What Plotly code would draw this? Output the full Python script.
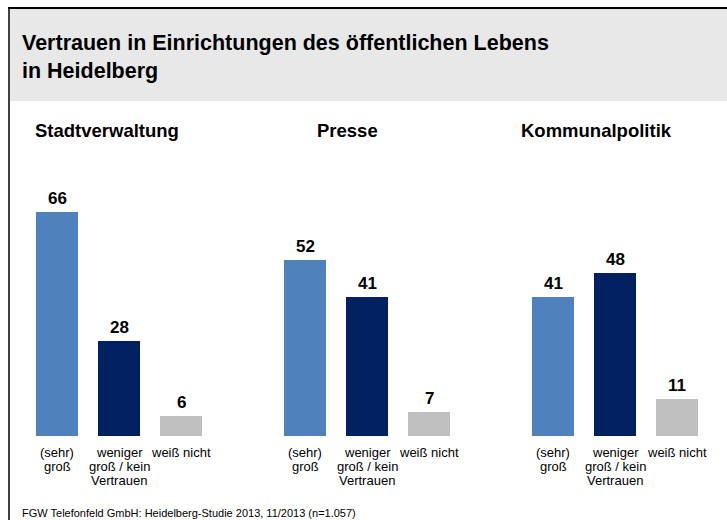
import plotly.graph_objects as go

# Canvas size in pixels
W, H = 727, 520

# ---- data -------------------------------------------------------------
institutions = ["Stadtverwaltung", "Presse", "Kommunalpolitik"]
answer_lines = [
    ["(sehr)", "groß"],
    ["weniger", "groß / kein", "Vertrauen"],
    ["weiß nicht"],
]
stadtverwaltung = [66, 28, 6]
presse = [52, 41, 7]
kommunalpolitik = [41, 48, 11]
series = [stadtverwaltung, presse, kommunalpolitik]

title_text = "Vertrauen in Einrichtungen des öffentlichen Lebens<br>in Heidelberg"
source_text = "FGW Telefonfeld GmbH: Heidelberg-Studie 2013, 11/2013 (n=1.057)"

# ---- style --------------------------------------------------------------
bar_colors = ["#4F81BD", "#002060", "#C0C0C0"]
FONT = "Liberation Sans, Arial, sans-serif"


def px_x(x):
    return x / W


def px_y(y):
    return 1 - y / H


# horizontal pixel extent of each panel, and the vertical plot area
panel_px = [(26, 212), (274, 460), (522, 708)]
plot_top, plot_bottom = 182, 436
y_max = 75
heading_left = [33, 315, 519]

fig = go.Figure()
axis_ids = ["x", "x2", "x3"]
annotations = []

for k, (name, vals) in enumerate(zip(institutions, series)):
    ax = axis_ids[k]
    fig.add_trace(go.Bar(
        x=list(range(len(vals))),
        y=vals,
        width=42 / 62,
        marker=dict(color=bar_colors, line=dict(width=0)),
        xaxis=ax,
        yaxis="y",
        hoverinfo="skip",
        showlegend=False,
    ))
    # value labels above the bars
    for i, v in enumerate(vals):
        annotations.append(dict(
            x=i, y=v, xref=ax, yref="y",
            text=f"<b>{v}</b>", showarrow=False,
            xanchor="center", yanchor="bottom", yshift=2,
            font=dict(family=FONT, size=17, color="#000000"),
        ))
    # category labels under the bars
    for i, lines in enumerate(answer_lines):
        for j, line in enumerate(lines):
            annotations.append(dict(
                x=i, y=px_y(452 + 14 * j), xref=ax, yref="paper",
                text=line, showarrow=False,
                xanchor="center", yanchor="middle",
                font=dict(family=FONT, size=13, color="#000000"),
            ))
    # panel heading
    annotations.append(dict(
        x=px_x(heading_left[k]), y=px_y(130), xref="paper", yref="paper",
        text=f"<b>{name}</b>", showarrow=False,
        xanchor="left", yanchor="middle",
        font=dict(family=FONT, size=18.5, color="#000000"),
    ))

# main title in the grey header band
annotations.append(dict(
    x=px_x(20), y=px_y(29), xref="paper", yref="paper",
    text=f"<b>{title_text}</b>", showarrow=False, align="left",
    xanchor="left", yanchor="top",
    font=dict(family=FONT, size=21.5, color="#000000"),
))

# source note
annotations.append(dict(
    x=px_x(20), y=px_y(513), xref="paper", yref="paper",
    text=source_text, showarrow=False,
    xanchor="left", yanchor="middle",
    font=dict(family=FONT, size=11, color="#000000"),
))

shapes = [
    # grey header band
    dict(type="rect", xref="paper", yref="paper",
         x0=px_x(10), x1=1, y0=px_y(101), y1=px_y(9),
         fillcolor="#E8E8E8", line=dict(width=0), layer="below"),
    # frame: top rule and left rule
    dict(type="line", xref="paper", yref="paper",
         x0=px_x(8), x1=1, y0=px_y(8), y1=px_y(8),
         line=dict(color="#000000", width=2)),
    dict(type="line", xref="paper", yref="paper",
         x0=px_x(9), x1=px_x(9), y0=px_y(8), y1=0,
         line=dict(color="#000000", width=1.5)),
]

hidden = dict(showgrid=False, zeroline=False, showticklabels=False,
              showline=False, ticks="", fixedrange=True)

layout_axes = {}
for k, ax in enumerate(axis_ids):
    key = "xaxis" if ax == "x" else f"xaxis{ax[1:]}"
    x0, x1 = panel_px[k]
    layout_axes[key] = dict(domain=[px_x(x0), px_x(x1)], range=[-0.5, 2.5],
                            anchor="y", **hidden)

fig.update_layout(
    width=W, height=H,
    margin=dict(l=0, r=0, t=0, b=0),
    paper_bgcolor="#FFFFFF",
    plot_bgcolor="rgba(0,0,0,0)",
    yaxis=dict(domain=[px_y(plot_bottom), px_y(plot_top)], range=[0, y_max],
               **hidden),
    annotations=annotations,
    shapes=shapes,
    bargap=0,
    **layout_axes,
)

# pin the figure to the top-left corner of the page, without scrollbars
page_css = (
    "document.documentElement.style.overflow='hidden';"
    "document.body.style.margin='0';"
    "document.body.style.overflow='hidden';"
    "var gd=document.getElementsByClassName('plotly-graph-div')[0];"
    "gd.style.position='fixed';gd.style.left='0px';gd.style.top='0px';"
)

fig.write_html("out.html", config={"displayModeBar": False},
               post_script=page_css)
